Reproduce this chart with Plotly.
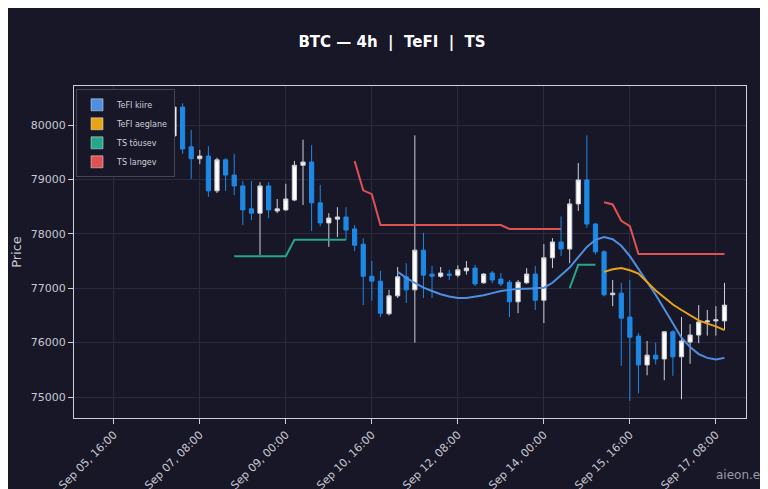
import pandas as pd
import plotly.graph_objects as go

# 4h candles, Sep 06 00:00 .. Sep 17 12:00
times = pd.date_range("2024-09-06 00:00", periods=70, freq="4h")

opens = [79950, 79800, 79950, 79910, 79710, 79800, 80330, 79600, 79380, 79430,
         78790, 79360, 79080, 78880, 78460, 78380, 78880, 78420, 78440, 78620,
         79260, 79320, 78570, 78200, 78270, 78310, 78090, 77810, 77220, 77130,
         76530, 76860, 77210, 76970, 77700, 77260, 77220, 77260, 77240, 77320,
         77370, 77100, 77280, 77170, 77110, 76750, 77100, 77260, 76780, 77560,
         77850, 77720, 78550, 78990, 78180, 77670, 76880, 76910, 76470, 76120,
         75590, 75770, 75700, 76200, 75740, 76010, 76140, 76380, 76400, 76400]
highs = [80050, 80050, 80000, 80000, 79820, 80530, 80400, 79910, 79540, 79610,
         79400, 79390, 79470, 78970, 78970, 78950, 78950, 78640, 78920, 79340,
         79730, 79630, 78900, 78380, 78490, 78490, 78160, 77920, 77500, 77320,
         76970, 77390, 77460, 79810, 78020, 77410, 77390, 77340, 77420, 77500,
         77430, 77280, 77320, 77280, 77150, 77150, 77370, 77410, 77810, 77920,
         78320, 78640, 79300, 79810, 78200, 77700, 77150, 77100, 77150, 76180,
         76030, 76000, 76210, 76230, 76470, 76340, 76690, 76600, 76670, 77100]
lows = [79700, 79750, 79600, 79250, 79580, 79610, 79470, 79010, 79280, 78680,
        78750, 78790, 78710, 78160, 78250, 77610, 78290, 78380, 78420, 78600,
        78530, 78050, 78140, 77760, 77940, 77890, 77680, 76690, 76770, 76470,
        76500, 76820, 76730, 76000, 76820, 76820, 77190, 77150, 77200, 77250,
        77040, 77080, 77090, 77040, 76470, 76540, 77080, 76600, 76360, 77370,
        77590, 77460, 78420, 78110, 77620, 76850, 76670, 75570, 74930, 75070,
        75400, 75600, 75310, 75390, 74960, 75610, 75990, 76130, 76130, 76230]
closes = [79800, 79950, 79750, 79670, 79820, 80330, 79560, 79380, 79430, 78790,
          79360, 79080, 78880, 78440, 78380, 78880, 78440, 78460, 78640, 79260,
          79320, 78570, 78200, 78290, 78310, 78070, 77790, 77220, 77130, 76540,
          76860, 77210, 76970, 77700, 77240, 77220, 77280, 77240, 77340, 77370,
          77080, 77260, 77150, 77080, 76750, 77110, 77260, 76780, 77560, 77850,
          77720, 78550, 78990, 78180, 77670, 76880, 76910, 76450, 76100, 75590,
          75770, 75700, 76200, 75740, 76030, 76140, 76380, 76400, 76420, 76690]

N = None
tefi_fast = [N] * 31 + [77300, 77190, 77100, 77010, 76950, 76890, 76850, 76820, 76820,
                        76840, 76870, 76910, 76950, 76970, 76990, 76990, 77000, 77010,
                        77100, 77240, 77380, 77570, 77760, 77890, 77940, 77900, 77780,
                        77590, 77360, 77130, 76880, 76620, 76350, 76090, 75920, 75790,
                        75720, 75690, 75720]
tefi_slow = [N] * 55 + [77300, 77350, 77370, 77330, 77270, 77120, 76960, 76830, 76700,
                        76600, 76500, 76410, 76350, 76300, 76230]
ts_up = ([N] * 12 + [77590] * 7 + [77890] * 7 + [N] * 25
         + [77000, 77430, 77430, 77430] + [N] * 15)
ts_down = ([N] * 26 + [79340, 78800, 78730] + [78160] * 15 + [78090] * 7 + [N] * 4
           + [78580, 78540, 78240, 78140] + [77630] * 11)

c_fast = "#4f8fe0"
c_slow = "#e8a317"
c_up = "#26a68a"
c_down = "#e05252"

fig = go.Figure()
fig.add_candlestick(
    x=times, open=opens, high=highs, low=lows, close=closes,
    increasing=dict(fillcolor="#ffffff", line=dict(color="#cfcfd8", width=1)),
    decreasing=dict(fillcolor="#1e88e5", line=dict(color="#1e88e5", width=1)),
    whiskerwidth=0, showlegend=False,
)
for name, vals, col in [("TeFI kiire", tefi_fast, c_fast),
                        ("TeFI aeglane", tefi_slow, c_slow),
                        ("TS tõusev", ts_up, c_up),
                        ("TS langev", ts_down, c_down)]:
    fig.add_scatter(x=times, y=vals, mode="lines", line=dict(color=col, width=2),
                    name=name, showlegend=False, connectgaps=False)
    # rectangle swatch for the legend
    fig.add_bar(x=[None], y=[None], name=name, marker_color=col)

fig.update_layout(
    width=768, height=489,
    paper_bgcolor="#171728", plot_bgcolor="#171728",
    margin=dict(l=66, r=30, t=78, b=79),
    title=dict(text="<b>BTC — 4h  |  TeFI  |  TS</b>", x=0.5, xanchor="center",
               y=0.93, yanchor="middle",
               font=dict(color="#ffffff", size=15, family="DejaVu Sans")),
    font=dict(color="#c8c8d0", family="DejaVu Sans", size=11),
    legend=dict(x=0.003, y=0.99, xanchor="left", yanchor="top",
                bgcolor="#171728", bordercolor="#444455", borderwidth=1,
                font=dict(size=8, color="#d0d0d8"), tracegroupgap=0,
                itemwidth=30),
    showlegend=True,
)
fig.update_xaxes(
    rangeslider_visible=False, type="date", automargin=False,
    range=["2024-09-04 21:30", "2024-09-17 22:00"],
    tick0="2024-09-05 16:00", dtick=40 * 3600 * 1000, tickformat="%b %d, %H:%M",
    tickangle=-45, gridcolor="#2a2a40", showline=True, linecolor="#d0d0d8",
    mirror=True, ticks="outside", tickcolor="#d0d0d8", zeroline=False,
)
fig.update_yaxes(
    title_text="Price", title_standoff=6, automargin=False,
    range=[74615, 80717], dtick=1000, tickformat="d",
    gridcolor="#2a2a40", showline=True, linecolor="#d0d0d8", mirror=True,
    ticks="outside", tickcolor="#d0d0d8", zeroline=False,
)
fig.add_annotation(text="aieon.ee", xref="paper", yref="paper", x=1.035, y=-0.2,
                   xanchor="right", showarrow=False,
                   font=dict(size=12, color="#9a9aa8"))

fig.write_html("out.html")
